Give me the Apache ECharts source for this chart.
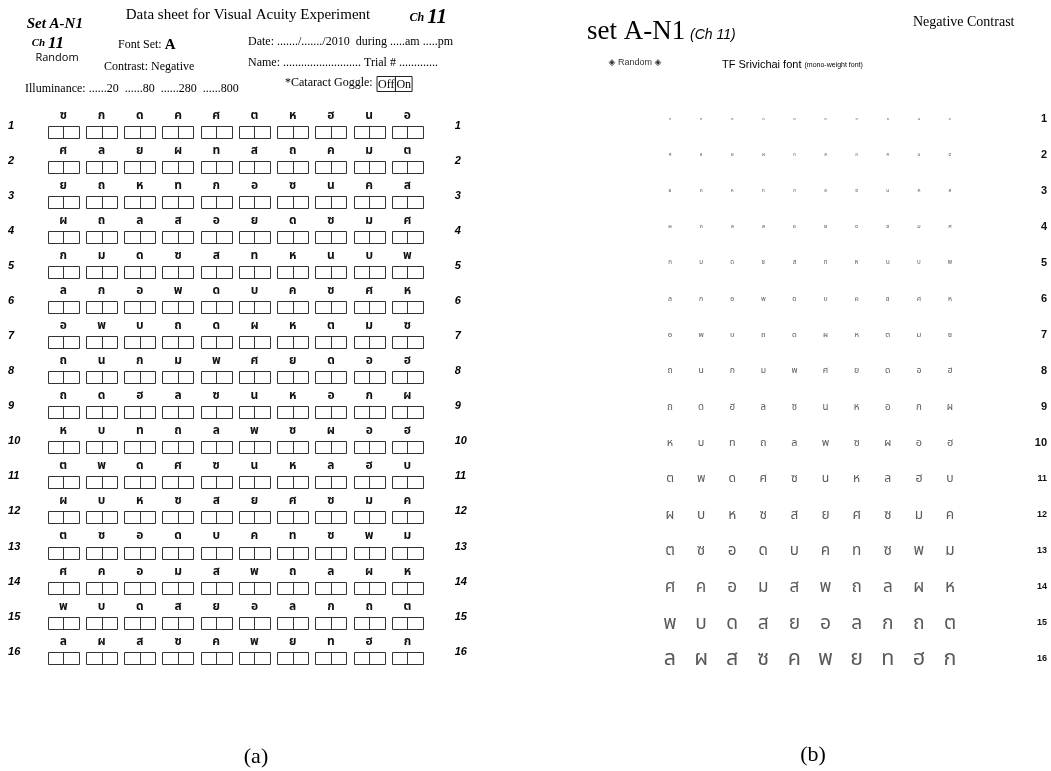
<!DOCTYPE html>
<html><head><meta charset="utf-8">
<script src="https://cdn.jsdelivr.net/npm/echarts@6/dist/echarts.min.js"></script>
<style>html,body{margin:0;padding:0;background:#fff}#c{width:1051px;height:771px}</style>
</head><body><div id="c"></div>
<script>
// ---- data ----
const rowLabels = ['1','2','3','4','5','6','7','8','9','10','11','12','13','14','15','16'];
const columns = [1,2,3,4,5,6,7,8,9,10];
const letterRows = [
  ['ซ','ก','ด','ค','ศ','ต','ห','ฮ','น','อ'],
  ['ศ','ล','ย','ผ','ท','ส','ถ','ค','ม','ต'],
  ['ย','ถ','ห','ท','ก','อ','ซ','น','ค','ส'],
  ['ผ','ถ','ล','ส','อ','ย','ด','ซ','ม','ศ'],
  ['ก','ม','ด','ซ','ส','ท','ห','น','บ','พ'],
  ['ล','ก','อ','พ','ด','บ','ค','ซ','ศ','ห'],
  ['อ','พ','บ','ถ','ด','ผ','ห','ต','ม','ซ'],
  ['ถ','น','ก','ม','พ','ศ','ย','ด','อ','ฮ'],
  ['ถ','ด','ฮ','ล','ซ','น','ห','อ','ก','ผ'],
  ['ห','บ','ท','ถ','ล','พ','ซ','ผ','อ','ฮ'],
  ['ต','พ','ด','ศ','ซ','น','ห','ล','ฮ','บ'],
  ['ผ','บ','ห','ซ','ส','ย','ศ','ซ','ม','ค'],
  ['ต','ซ','อ','ด','บ','ค','ท','ซ','พ','ม'],
  ['ศ','ค','อ','ม','ส','พ','ถ','ล','ผ','ห'],
  ['พ','บ','ด','ส','ย','อ','ล','ก','ถ','ต'],
  ['ล','ผ','ส','ซ','ค','พ','ย','ท','ฮ','ก']
];
const illuminanceLevels = ['20','80','280','800'];

// ---- build cells ----
const cells = [];
const cellLetters = [];
letterRows.forEach((row, r) => row.forEach((ch, c) => {
  cells.push([columns[c], Number(rowLabels[r])]);
  cellLetters.push(ch);
}));

const SERIF = '"Liberation Serif","DejaVu Serif",serif';
const SANS = '"Liberation Sans","DejaVu Sans",sans-serif';
const THAI = '"Noto Sans Thai","Loma","Garuda","Tlwg Typo","DejaVu Sans",sans-serif';

const chart = echarts.init(document.getElementById('c'), null, {renderer: 'canvas'});

function txt(x, y, text, style) {
  return {type: 'text', x: x, y: y, silent: true,
    style: Object.assign({text: text, fill: '#000', align: 'left', verticalAlign: 'middle',
      fontFamily: SERIF, fontSize: 12}, style)};
}

const hideAxis = {axisLine: {show: false}, axisTick: {show: false}, splitLine: {show: false}};
const rowFormatter = v => (v >= 1 && v <= 16) ? rowLabels[v - 1] : '';
const rowFormatterB = v => (v >= 1 && v <= 16) ? (v >= 11 ? '{s|' + rowLabels[v - 1] + '}' : rowLabels[v - 1]) : '';

const option = {
  animation: false,
  backgroundColor: '#fff',
  grid: [
    {left: 25.06, top: 90.6, width: 420.6, height: 596.2, containLabel: false, outerBoundsMode: 'none'},
    {left: 638.9, top: 82.5, width: 342.2, height: 612, containLabel: false, outerBoundsMode: 'none'}
  ],
  xAxis: [
    Object.assign({type: 'value', gridIndex: 0, min: 0, max: 11, show: false}, hideAxis),
    Object.assign({type: 'value', gridIndex: 1, min: 0, max: 11, show: false}, hideAxis)
  ],
  yAxis: [
    Object.assign({type: 'value', gridIndex: 0, min: 0, max: 17, interval: 1, inverse: true, position: 'left',
      axisLabel: {formatter: rowFormatter, align: 'left', margin: 17, fontFamily: SANS, fontSize: 11,
        fontWeight: 'bold', fontStyle: 'italic', color: '#000'}}, hideAxis),
    Object.assign({type: 'value', gridIndex: 0, min: 0, max: 17, interval: 1, inverse: true, position: 'right',
      axisLabel: {formatter: rowFormatter, align: 'left', margin: 9, fontFamily: SANS, fontSize: 11,
        fontWeight: 'bold', fontStyle: 'italic', color: '#000'}}, hideAxis),
    Object.assign({type: 'value', gridIndex: 1, min: 0, max: 17, interval: 1, inverse: true, position: 'right',
      axisLabel: {formatter: rowFormatterB, align: 'right', margin: 66, fontFamily: SANS, fontSize: 11,
        fontWeight: 'bold', color: '#111',
        rich: {s: {fontFamily: SANS, fontSize: 9, fontWeight: 'bold', color: '#111'}}}}, hideAxis)
  ],
  series: [
    {
      type: 'custom', name: 'Data sheet', xAxisIndex: 0, yAxisIndex: 0, data: cells,
      renderItem: function (params, api) {
        const p = api.coord([api.value(0), api.value(1)]);
        const w = 31.3, h = 11.6;
        const x0 = Math.round(p[0] - w / 2) + 0.5, y0 = Math.round(p[1]) + 0.5, xm = Math.round(p[0]) + 0.5;
        return {type: 'group', children: [
          {type: 'rect', shape: {x: x0, y: y0, width: Math.round(w), height: Math.round(h)},
            style: {fill: '#fff', stroke: '#333', lineWidth: 1}},
          {type: 'line', shape: {x1: xm, y1: y0, x2: xm, y2: y0 + Math.round(h)},
            style: {stroke: '#333', lineWidth: 1}},
          {type: 'text', x: p[0], y: p[1] - 9.5,
            style: {text: cellLetters[params.dataIndex], align: 'center', verticalAlign: 'middle',
              fontFamily: THAI, fontSize: 12, fontWeight: 'bold', fill: '#111'}}
        ]};
      }
    },
    {
      type: 'custom', name: 'Chart', xAxisIndex: 1, yAxisIndex: 2, data: cells,
      renderItem: function (params, api) {
        const p = api.coord([api.value(0), api.value(1)]);
        const r = api.value(1);
        const fs = 21.5 * Math.pow(1.12, r - 16);
        return {type: 'text', x: p[0], y: p[1] + fs * 0.12,
          style: {text: cellLetters[params.dataIndex], align: 'center', verticalAlign: 'middle',
            fontFamily: THAI, fontSize: fs, fill: '#5a5a5a'}};
      }
    }
  ],
  graphic: [
    // panel (a) header
    txt(26.7, 24, 'Set A-N1', {fontSize: 15, fontWeight: 'bold', fontStyle: 'italic'}),
    txt(31.7, 43.3, '{c|Ch }{n|11}', {rich: {
      c: {fontSize: 11, fontWeight: 'bold', fontStyle: 'italic', fontFamily: SERIF},
      n: {fontSize: 17, fontWeight: 'bold', fontStyle: 'italic', fontFamily: SERIF}}}),
    txt(57, 58.3, 'Random', {fontFamily: '"Open Sans",' + SANS, fontSize: 11, align: 'center'}),
    txt(248, 15, 'Data sheet for Visual Acuity Experiment', {fontSize: 15, align: 'center'}),
    txt(447, 18, '{c|Ch }{n|11}', {align: 'right', rich: {
      c: {fontSize: 12, fontWeight: 'bold', fontStyle: 'italic', fontFamily: SERIF},
      n: {fontSize: 21, fontWeight: 'bold', fontStyle: 'italic', fontFamily: SERIF}}}),
    txt(118, 45, '{t|Font Set: }{a|A}', {rich: {
      t: {fontSize: 12, fontFamily: SERIF},
      a: {fontSize: 15, fontWeight: 'bold', fontFamily: SERIF}}}),
    txt(248, 42.3, 'Date: ......./......./2010  during .....am .....pm', {fontSize: 12}),
    txt(104, 66.7, 'Contrast: Negative', {fontSize: 12}),
    txt(248, 63.3, 'Name: .......................... Trial # .............', {fontSize: 12}),
    txt(25, 89.3, 'Illuminance: ' + illuminanceLevels.map(v => '......' + v).join('  '), {fontSize: 12}),
    txt(285, 83.3, '*Cataract Goggle:', {fontSize: 12}),
    txt(377, 84, '{b|Off}{b|On}', {rich: {
      b: {fontSize: 12, fontFamily: SERIF, borderColor: '#222', borderWidth: 1, padding: [2, 1, 1, 1]}}}),
    // panel (b) header
    txt(587, 31.7, 'set A-N1', {fontSize: 27}),
    txt(690, 35, '(Ch 11)', {fontFamily: SANS, fontSize: 14, fontStyle: 'italic'}),
    txt(913, 22, 'Negative Contrast', {fontSize: 14}),
    txt(635, 63, '◈ Random ◈', {fontFamily: SANS, fontSize: 9, align: 'center', fill: '#333'}),
    txt(722, 65, '{a|TF Srivichai font }{b|(mono-weight font)}', {rich: {
      a: {fontSize: 11, fontFamily: SANS, color: '#222'},
      b: {fontSize: 7, fontFamily: SANS, color: '#222'}}}),
    // captions
    txt(256, 757, '(a)', {fontSize: 22, align: 'center'}),
    txt(813, 755, '(b)', {fontSize: 22, align: 'center'})
  ]
};
chart.setOption(option);
</script>
</body></html>
